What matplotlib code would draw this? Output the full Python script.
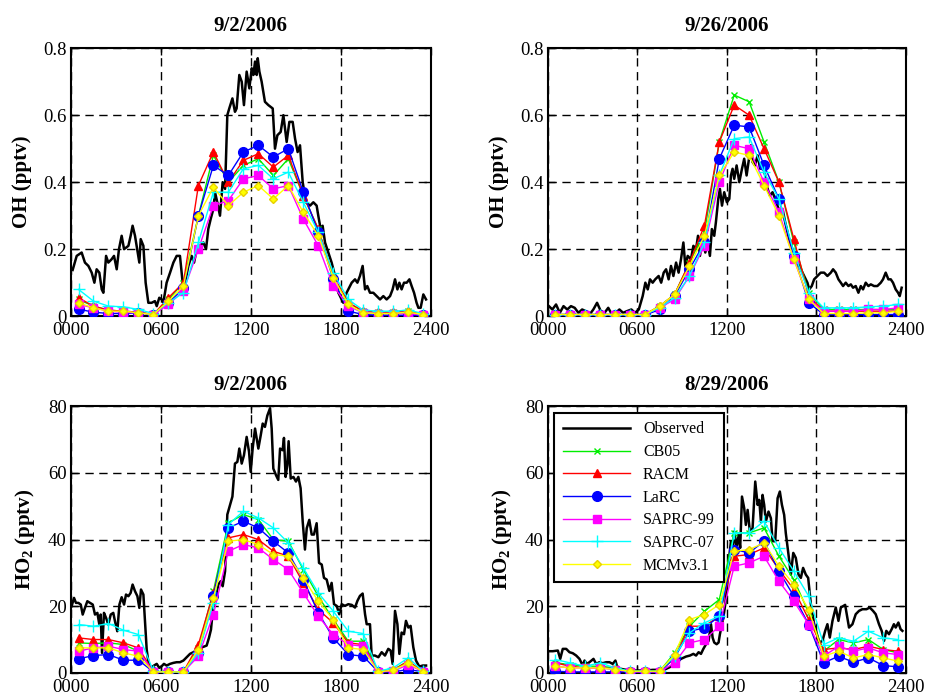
import matplotlib
matplotlib.use("Agg")
import matplotlib.pyplot as plt
from matplotlib.ticker import FixedLocator, FixedFormatter

plt.rcParams['font.family'] = ['Liberation Serif', 'DejaVu Serif']
plt.rcParams['mathtext.fontset'] = 'custom'
plt.rcParams['mathtext.rm'] = 'Liberation Serif'
plt.rcParams['mathtext.bf'] = 'Liberation Serif:bold'

# hourly model output, plotted at mid-hour
model_hours = [0.5, 1.5, 2.5, 3.5, 4.5, 5.5, 6.5, 7.5, 8.5, 9.5, 10.5, 11.5,
               12.5, 13.5, 14.5, 15.5, 16.5, 17.5, 18.5, 19.5, 20.5, 21.5, 22.5, 23.5]
models = ['CB05', 'RACM', 'LaRC', 'SAPRC-99', 'SAPRC-07', 'MCMv3.1']

## PANEL 1: OH 9/2/2006
oh1_obs_t = [0.11, 0.38, 0.71, 0.93, 1.16, 1.38, 1.56, 1.71, 1.89, 2.05, 2.16, 2.34, 2.49, 2.71,
             2.87, 3.05, 3.20, 3.38, 3.54, 3.83, 3.98, 4.11, 4.27, 4.45, 4.56, 4.65, 4.83, 4.98,
             5.16, 5.38, 5.60, 5.72, 5.89, 6.05, 6.16, 6.38, 6.61, 6.83, 7.05, 7.27, 7.45, 7.61,
             7.83, 8.05, 8.21, 8.39, 8.61, 8.83, 9.01, 9.16, 9.32, 9.50, 9.61, 9.76, 9.94, 10.12,
             10.28, 10.43, 10.56, 10.77, 10.94, 11.05, 11.23, 11.39, 11.54, 11.72, 11.90, 12.06,
             12.17, 12.28, 12.39, 12.46, 12.57, 12.72, 12.94, 13.17, 13.46, 13.61, 13.77, 13.99,
             14.17, 14.39, 14.57, 14.79, 14.95, 15.12, 15.28, 15.46, 15.68, 15.95, 16.17, 16.39,
             16.50, 16.66, 16.79, 16.95, 17.17, 17.39, 17.62, 17.84, 18.17, 18.39, 18.73, 18.95,
             19.11, 19.28, 19.46, 19.62, 19.77, 19.95, 20.17, 20.40, 20.62, 20.84, 21.06, 21.29,
             21.46, 21.62, 21.78, 21.91, 22.06, 22.22, 22.40, 22.58, 22.73, 22.89, 23.06, 23.18,
             23.33, 23.51, 23.69]
oh1_obs = [0.138, 0.18, 0.19, 0.16, 0.15, 0.13, 0.10, 0.14, 0.13, 0.08, 0.07, 0.18, 0.16, 0.17,
           0.18, 0.14, 0.20, 0.24, 0.20, 0.21, 0.24, 0.27, 0.24, 0.19, 0.16, 0.23, 0.21, 0.10,
           0.04, 0.04, 0.045, 0.03, 0.055, 0.05, 0.04, 0.10, 0.13, 0.16, 0.18, 0.18, 0.10, 0.10,
           0.15, 0.18, 0.16, 0.20, 0.21, 0.22, 0.20, 0.26, 0.29, 0.32, 0.37, 0.34, 0.30, 0.40,
           0.38, 0.60, 0.62, 0.65, 0.61, 0.62, 0.72, 0.70, 0.63, 0.73, 0.68, 0.74,
           0.72, 0.76, 0.72, 0.77, 0.73, 0.70, 0.64, 0.63, 0.62, 0.50, 0.54, 0.55,
           0.60, 0.52, 0.58, 0.58, 0.53, 0.49, 0.51, 0.40, 0.34, 0.33, 0.34, 0.33,
           0.30, 0.26, 0.27, 0.22, 0.19, 0.16, 0.12, 0.07, 0.04, 0.07, 0.10, 0.11,
           0.10, 0.12, 0.15, 0.08, 0.09, 0.07, 0.07, 0.06, 0.05, 0.06, 0.05, 0.06,
           0.08, 0.11, 0.08, 0.10, 0.08, 0.10, 0.10, 0.11, 0.09, 0.07, 0.04, 0.025,
           0.025, 0.065, 0.05]
oh1_cb05 = [0.05, 0.03, 0.018, 0.015, 0.012, 0.005, 0.05, 0.10, 0.30, 0.48, 0.40, 0.45,
            0.47, 0.42, 0.47, 0.36, 0.26, 0.12, 0.04, 0.015, 0.012, 0.012, 0.015, 0.005]
oh1_racm = [0.055, 0.03, 0.018, 0.015, 0.012, 0.005, 0.055, 0.10, 0.39, 0.49, 0.40, 0.465,
            0.485, 0.445, 0.48, 0.36, 0.26, 0.12, 0.04, 0.015, 0.012, 0.012, 0.015, 0.005]
oh1_larc = [0.021, 0.012, 0.008, 0.008, 0.01, 0.005, 0.04, 0.083, 0.30, 0.45, 0.42, 0.49,
            0.51, 0.475, 0.50, 0.37, 0.25, 0.11, 0.015, 0.005, 0.003, 0.003, 0.003, 0.003]
oh1_s99 = [0.035, 0.025, 0.015, 0.012, 0.01, 0.005, 0.035, 0.075, 0.20, 0.33, 0.345, 0.41,
           0.42, 0.38, 0.39, 0.29, 0.21, 0.09, 0.03, 0.01, 0.008, 0.008, 0.008, 0.003]
oh1_s07 = [0.08, 0.045, 0.03, 0.028, 0.02, 0.008, 0.04, 0.07, 0.22, 0.37, 0.37, 0.44,
           0.45, 0.41, 0.43, 0.34, 0.25, 0.13, 0.05, 0.018, 0.015, 0.015, 0.018, 0.008]
oh1_mcm = [0.04, 0.025, 0.015, 0.015, 0.01, 0.005, 0.045, 0.09, 0.30, 0.385, 0.33, 0.37,
           0.39, 0.35, 0.39, 0.31, 0.24, 0.115, 0.035, 0.01, 0.008, 0.008, 0.012, 0.005]

## PANEL 2: OH 9/26/2006
oh2_obs_t = [0.07, 0.3, 0.55, 0.8, 1.05, 1.3, 1.55, 1.8, 2.05, 2.3, 2.55, 2.8, 3.05, 3.3, 3.55,
             3.8, 4.05, 4.3, 4.55, 4.8, 5.05, 5.3, 5.6, 5.85, 6.1, 6.36, 6.54, 6.70, 6.85, 7.03,
             7.20, 7.43, 7.60, 7.77, 7.93, 8.10, 8.26, 8.42, 8.60, 8.77, 8.93, 9.09, 9.22, 9.38,
             9.60, 9.76, 9.94, 10.07, 10.20, 10.38, 10.56, 10.72, 10.87, 11.00, 11.16, 11.27,
             11.43, 11.54, 11.68, 11.83, 12.01, 12.17, 12.28, 12.39, 12.50, 12.66, 12.84, 13.02,
             13.17, 13.33, 13.46, 13.62, 13.73, 13.89, 14.07, 14.24, 14.40, 14.58, 14.74, 14.89,
             15.07, 15.25, 15.40, 15.56, 15.74, 15.92, 16.08, 16.23, 16.41, 16.59, 16.74, 16.97,
             17.19, 17.41, 17.53, 17.70, 17.86, 18.08, 18.30, 18.53, 18.75, 18.98, 19.13, 19.31,
             19.49, 19.65, 19.80, 19.98, 20.16, 20.32, 20.47, 20.65, 20.83, 20.99, 21.14, 21.32,
             21.50, 21.66, 21.88, 22.10, 22.33, 22.48, 22.66, 22.84, 23.00, 23.15, 23.33, 23.49,
             23.60, 23.73]
oh2_obs = [0.03, 0.02, 0.035, 0.01, 0.03, 0.02, 0.03, 0.025, 0.01, 0.02, 0.015, 0.005, 0.02,
           0.04, 0.015, 0.01, 0.025, 0.005, 0.01, 0.02, 0.01, 0.015, 0.02, 0.01, 0.02, 0.06, 0.10,
           0.08, 0.11, 0.10, 0.11, 0.12, 0.10, 0.13, 0.14, 0.11, 0.15, 0.12, 0.16, 0.13, 0.17,
           0.22, 0.15, 0.18, 0.17, 0.21, 0.20, 0.24, 0.18, 0.23, 0.19, 0.22, 0.18, 0.26, 0.24,
           0.28, 0.35, 0.38, 0.33, 0.37, 0.34, 0.35, 0.42, 0.44, 0.41, 0.45, 0.40, 0.44, 0.47,
           0.42, 0.46, 0.51, 0.46, 0.45, 0.48, 0.44, 0.45, 0.42, 0.38, 0.36, 0.37, 0.35, 0.33,
           0.31, 0.32, 0.28, 0.25, 0.22, 0.20, 0.18, 0.16, 0.14, 0.12, 0.10, 0.08, 0.09, 0.11,
           0.12, 0.13, 0.13, 0.12, 0.13, 0.14, 0.13, 0.11, 0.10, 0.09, 0.10, 0.09, 0.095, 0.085,
           0.09, 0.07, 0.09, 0.08, 0.10, 0.09, 0.095, 0.09, 0.09, 0.10, 0.11, 0.13, 0.11, 0.11,
           0.10, 0.08, 0.07, 0.06, 0.085]
oh2_cb05 = [0.005, 0.005, 0.005, 0.005, 0.005, 0.005, 0.005, 0.03, 0.065, 0.16, 0.25, 0.52,
            0.66, 0.64, 0.52, 0.40, 0.22, 0.07, 0.02, 0.02, 0.02, 0.02, 0.02, 0.02]
oh2_racm = [0.005, 0.005, 0.005, 0.005, 0.005, 0.005, 0.005, 0.03, 0.065, 0.16, 0.27, 0.52,
            0.63, 0.60, 0.50, 0.40, 0.23, 0.06, 0.015, 0.015, 0.015, 0.015, 0.015, 0.015]
oh2_larc = [0.003, 0.003, 0.003, 0.003, 0.003, 0.003, 0.003, 0.02, 0.06, 0.14, 0.22, 0.47,
            0.57, 0.565, 0.45, 0.35, 0.18, 0.04, 0.005, 0.005, 0.005, 0.005, 0.005, 0.005]
oh2_s99 = [0.005, 0.005, 0.005, 0.005, 0.005, 0.005, 0.005, 0.025, 0.05, 0.12, 0.21, 0.40,
           0.51, 0.50, 0.40, 0.31, 0.17, 0.05, 0.015, 0.015, 0.015, 0.02, 0.02, 0.025]
oh2_s07 = [0.005, 0.005, 0.005, 0.005, 0.005, 0.005, 0.005, 0.025, 0.055, 0.12, 0.22, 0.42,
           0.53, 0.535, 0.43, 0.35, 0.19, 0.07, 0.025, 0.025, 0.025, 0.028, 0.03, 0.035]
oh2_mcm = [0.005, 0.005, 0.005, 0.005, 0.005, 0.005, 0.005, 0.03, 0.065, 0.15, 0.24, 0.42,
           0.49, 0.48, 0.39, 0.30, 0.17, 0.05, 0.008, 0.008, 0.008, 0.01, 0.01, 0.015]

## PANEL 3: HO2 9/2/2006
ho1_obs_t = [0.04, 0.20, 0.33, 0.49, 0.65, 0.78, 0.93, 1.09, 1.27, 1.45, 1.60, 1.76, 1.89, 1.98,
             2.07, 2.20, 2.34, 2.49, 2.65, 2.82, 2.98, 3.09, 3.23, 3.38, 3.54, 3.67, 3.83, 3.98,
             4.11, 4.27, 4.43, 4.56, 4.67, 4.83, 4.94, 5.05, 5.20, 5.38, 5.54, 5.72, 5.89, 6.05,
             6.20, 6.38, 6.61, 6.83, 7.05, 7.27, 7.50, 7.72, 7.94, 8.16, 8.39, 8.61, 8.83, 9.05,
             9.21, 9.34, 9.50, 9.68, 9.83, 9.99, 10.12, 10.28, 10.43, 10.61, 10.77, 10.94, 11.10,
             11.23, 11.39, 11.54, 11.72, 11.88, 11.99, 12.12, 12.28, 12.39, 12.50, 12.66, 12.79,
             12.94, 13.10, 13.28, 13.39, 13.50, 13.68, 13.83, 13.95, 14.12, 14.21, 14.32, 14.43,
             14.52, 14.66, 14.84, 15.01, 15.17, 15.32, 15.46, 15.61, 15.73, 15.90, 16.06, 16.21,
             16.39, 16.55, 16.73, 16.88, 17.06, 17.24, 17.39, 17.55, 17.73, 17.90, 18.06, 18.28,
             18.50, 18.73, 18.95, 19.11, 19.28, 19.46, 19.62, 19.73, 19.95, 20.06, 20.28, 20.51,
             20.73, 20.95, 21.17, 21.33, 21.46, 21.62, 21.78, 21.91, 22.06, 22.22, 22.35, 22.51,
             22.66, 22.84, 23.02, 23.24, 23.47, 23.69]
ho1_obs = [20, 22.5, 21, 21, 20.5, 17.5, 19.5, 21.5, 21, 20.5, 17.5, 18, 14.5, 17.5,
           6, 18, 16.5, 14.5, 17.5, 18, 14.5, 12.5, 20.5, 22.7, 20.5, 23.5, 23, 24,
           26.5, 24.5, 23, 19.5, 25, 23.5, 15, 7, 2, 1.7, 2.2, 2.7, 1.5, 2,
           2.7, 2.2, 2.7, 3, 3.2, 3.2, 3.7, 4.7, 5.7, 6.2, 6.7, 7.7, 7.8, 8.2,
           10.6, 13, 20.5, 23.5, 26.5, 27.5, 26, 30.5, 47.5, 50.4, 52.9, 62.8, 63.3,
           67.3, 62.8, 65.3, 70.8, 66.3, 60.3, 67.3, 73.3, 70.3, 67.3, 71.3, 74.8,
           73.8, 77.2, 79.4, 73.3, 61.3, 59.3, 57.9, 67.3, 66.8, 70.5, 58.8, 62.3,
           69.5, 58.3, 58.8, 57.4, 58.8, 55.4, 45.4, 37, 43.4, 45.9, 41.5, 41.5,
           44.9, 33, 32.5, 28.5, 28, 24.6, 27, 20.6, 20.1, 17.6, 20.6, 20.1,
           20.6, 20.4, 19.6, 21.6, 23.1, 23.8, 17.6, 14.6, 14.6, 5.2, 5.2, 4.7,
           6.2, 5.2, 7.2, 6.7, 2.7, 18.6, 14.6, 5.7, 12.1, 11.6, 15.6, 13.6,
           14.1, 7.7, 3.7, 1.9, 2.2, 2.2]
ho1_cb05 = [9, 8.8, 9, 8.5, 6.5, 0.3, 0.3, 0.3, 7.5, 24.5, 45, 47.5,
            46, 40, 39.5, 31, 23, 16, 9.5, 9.5, 0.3, 1, 3.5, 0.3]
ho1_racm = [10.5, 10, 10, 9, 7.5, 0.3, 0.3, 0.3, 8.5, 24, 40.5, 41.5,
            40, 36.5, 35, 27, 19, 15, 9, 8.5, 0.3, 0.8, 3.5, 0.3]
ho1_larc = [4.2, 5.2, 5.5, 3.8, 3.8, 0.3, 0.3, 0.3, 6, 23, 43.5, 45.5,
            43.5, 39.5, 36, 28, 18, 10.5, 5.5, 5, 0.3, 0.3, 1, 0.3]
ho1_s99 = [6.5, 7.5, 8, 7, 6.5, 0.3, 0.3, 0.3, 5, 17.5, 36.5, 38.5,
           37.5, 34, 31, 24, 17, 11.5, 8.5, 8, 0.3, 0.5, 2.5, 0.3]
ho1_s07 = [14.5, 14, 14.8, 12.8, 11.5, 0.5, 0.3, 0.3, 6, 21, 44.5, 48.5,
           46.5, 43.5, 39, 31.5, 24, 18.5, 12.5, 11.8, 0.5, 1.5, 4.5, 0.5]
ho1_mcm = [7.5, 7.5, 7.5, 6, 5, 0.3, 0.3, 0.3, 7, 22.5, 39.5, 40,
           38.5, 35.5, 35, 28.5, 21.5, 16, 7.5, 7, 0.3, 0.8, 3, 0.3]

## PANEL 4: HO2 8/29/2006
ho2_obs_t = [0.07, 0.33, 0.67, 0.83, 1.00, 1.23, 1.45, 1.67, 1.90, 2.12, 2.34, 2.46, 2.61, 2.79,
             3.06, 3.24, 3.46, 3.68, 3.91, 4.13, 4.35, 4.53, 4.69, 4.91, 5.25, 5.69, 6.14, 6.59,
             7.03, 7.48, 7.93, 8.26, 8.60, 8.93, 9.27, 9.53, 9.76, 9.94, 10.11, 10.27, 10.43,
             10.61, 10.78, 10.94, 11.05, 11.16, 11.32, 11.45, 11.54, 11.68, 11.77, 11.90, 12.06,
             12.17, 12.28, 12.39, 12.50, 12.66, 12.79, 12.90, 13.02, 13.17, 13.28, 13.40, 13.55,
             13.73, 13.91, 14.07, 14.18, 14.29, 14.40, 14.51, 14.62, 14.80, 14.96, 15.07, 15.25,
             15.41, 15.56, 15.70, 15.85, 15.96, 16.14, 16.30, 16.46, 16.63, 16.81, 16.97, 17.12,
             17.30, 17.46, 17.64, 17.86, 18.20, 18.42, 18.60, 18.75, 18.91, 19.09, 19.31, 19.49,
             19.65, 19.94, 20.20, 20.43, 20.65, 20.87, 21.10, 21.37, 21.59, 21.81, 21.99, 22.21,
             22.39, 22.55, 22.70, 22.88, 23.06, 23.21, 23.33, 23.51, 23.66, 23.78]
ho2_obs = [6.5, 6.5, 6.7, 4.2, 7.2, 7.2, 6.2, 5.9, 5.2, 4.2, 2.2, 3.7, 2.7, 3.2,
           4.2, 2.7, 3.2, 2.9, 3.2, 3.2, 2.7, 3.7, 1.2, 1.2, 0.9, 0.7, 0.7, 0.7,
           0.9, 0.9, 1.2, 1.9, 3.2, 4.2, 4.9, 5.2, 5.7, 5.2, 6.2, 5.7, 7.2,
           8.6, 9.6, 14.6, 10.6, 9.1, 8.6, 9.1, 11.6, 14.6, 16.6, 20.6, 28.5,
           35, 39.5, 36.5, 42.4, 37.5, 41.5, 37.5, 52.9, 49.4, 44.4, 48.9, 42.4,
           43.4, 57.4, 50.4, 51.9, 45.4, 53.4, 50.4, 45.4, 48.4, 46.4, 39.5, 39.5,
           52.4, 54.4, 50.4, 47.4, 41.9, 35.5, 29.5, 36, 34.5, 29.5, 28.5, 31.5,
           29.5, 28.5, 20.6, 14.6, 9.1, 9.6, 12.6, 14.6, 10.6, 15.6, 19.6, 15.6,
           19.6, 20.4, 13.6, 14.6, 17.6, 18.6, 19.1, 19.1, 19.6, 18.6, 17.6, 14.6,
           12.6, 9.6, 12.6, 11.6, 13.1, 14.6, 13.6, 15.1, 13.1, 12.6]
ho2_cb05 = [3, 2.5, 2, 2, 1.5, 0.5, 0.5, 0.5, 6, 14, 18.5, 22,
            42, 42, 43.5, 35, 28, 18, 6.5, 10, 9, 10, 7, 6]
ho2_racm = [3, 2, 1.5, 1.5, 1.2, 0.3, 0.3, 0.3, 4.5, 14, 14, 17,
            35, 35.5, 37.5, 31, 25, 16, 7, 7.5, 7, 8, 7, 6.5]
ho2_larc = [0.5, 0.3, 0.3, 0.3, 0.3, 0.3, 0.3, 0.3, 4.5, 12.5, 13.5, 17,
            37, 36, 39.5, 30.5, 23, 14.5, 3, 5, 3.2, 4.5, 2.2, 1.8]
ho2_s99 = [2, 1.5, 1.5, 1.5, 1, 0.3, 0.3, 0.3, 3, 9, 10, 14,
           32, 33, 35, 27.5, 21.5, 14.5, 5, 8, 6.5, 7.5, 6, 5.5]
ho2_s07 = [4, 3, 2, 3, 1.5, 0.5, 0.5, 0.5, 5, 12, 15, 17,
           42, 42, 45.5, 37.5, 30.5, 23, 8.5, 10.5, 9.5, 12.5, 10.5, 10]
ho2_mcm = [2, 1.5, 1.5, 1.5, 1, 0.5, 0.5, 0.5, 5.5, 16, 17.5, 20.5,
           36.5, 37, 39, 32, 26.5, 19, 5, 6.5, 4.5, 5.5, 4.5, 3.5]

x_ticks = [0, 6, 12, 18, 24]
x_labels = ['0000', '0600', '1200', '1800', '2400']

# marker style for each mechanism
styles = {
    'CB05': dict(color='#00ee00', marker='x', ms=5, mew=1),
    'RACM': dict(color='#ff0000', marker='^', ms=6),
    'LaRC': dict(color='#0000ff', marker='o', ms=7),
    'SAPRC-99': dict(color='#ff00ff', marker='s', ms=6),
    'SAPRC-07': dict(color='#00ffff', marker='+', ms=9, mew=1),
    'MCMv3.1': dict(color='#ffff00', marker='D', ms=4.5, mec='#e8d000'),
}

panels = [
    dict(rect=[0.0766, 0.547, 0.388, 0.384], title='9/2/2006', ylabel='OH (pptv)',
         ymax=0.8, yticks=[0, 0.2, 0.4, 0.6, 0.8], ylabels=['0', '0.2', '0.4', '0.6', '0.8'],
         obs_t=oh1_obs_t, obs=oh1_obs,
         mod=[oh1_cb05, oh1_racm, oh1_larc, oh1_s99, oh1_s07, oh1_mcm]),
    dict(rect=[0.591, 0.547, 0.386, 0.384], title='9/26/2006', ylabel='OH (pptv)',
         ymax=0.8, yticks=[0, 0.2, 0.4, 0.6, 0.8], ylabels=['0', '0.2', '0.4', '0.6', '0.8'],
         obs_t=oh2_obs_t, obs=oh2_obs,
         mod=[oh2_cb05, oh2_racm, oh2_larc, oh2_s99, oh2_s07, oh2_mcm]),
    dict(rect=[0.0766, 0.036, 0.388, 0.382], title='9/2/2006', ylabel=r'HO$_\mathbf{2}$ (pptv)',
         ymax=80, yticks=[0, 20, 40, 60, 80], ylabels=['0', '20', '40', '60', '80'],
         obs_t=ho1_obs_t, obs=ho1_obs,
         mod=[ho1_cb05, ho1_racm, ho1_larc, ho1_s99, ho1_s07, ho1_mcm]),
    dict(rect=[0.591, 0.036, 0.386, 0.382], title='8/29/2006', ylabel=r'HO$_\mathbf{2}$ (pptv)',
         ymax=80, yticks=[0, 20, 40, 60, 80], ylabels=['0', '20', '40', '60', '80'],
         obs_t=ho2_obs_t, obs=ho2_obs,
         mod=[ho2_cb05, ho2_racm, ho2_larc, ho2_s99, ho2_s07, ho2_mcm]),
]

fig = plt.figure(figsize=(9.27, 6.98), dpi=100)

for i, p in enumerate(panels):
    ax = fig.add_axes(p['rect'])
    ax.plot(p['obs_t'], p['obs'], color='black', lw=1.8, label='Observed', zorder=3)
    for name, vals in zip(models, p['mod']):
        ax.plot(model_hours, vals, lw=1, label=name, zorder=4, **styles[name])
    ax.set_xlim(0, 24)
    ax.set_ylim(0, p['ymax'])
    ax.xaxis.set_major_locator(FixedLocator(x_ticks))
    ax.xaxis.set_major_formatter(FixedFormatter(x_labels))
    ax.yaxis.set_major_locator(FixedLocator(p['yticks']))
    ax.yaxis.set_major_formatter(FixedFormatter(p['ylabels']))
    ax.tick_params(direction='in', length=5, width=1, labelsize=13.5,
                   top=True, right=True, pad=3)
    ax.tick_params(axis='x', pad=4.5)
    ax.grid(True, color='black', ls=(0, (6, 4)), lw=1, zorder=1)
    for s in ax.spines.values():
        s.set_linewidth(1.5)
    ax.set_title(p['title'], fontsize=15, fontweight='bold', pad=12)
    ax.set_ylabel(p['ylabel'], fontsize=15, fontweight='bold', labelpad=8)
    # legend only on the last panel
    if i == 3:
        leg = ax.legend(loc='upper left', fontsize=11.5, handlelength=4.2, labelspacing=0.42,
                        borderaxespad=0.4, borderpad=0.55, fancybox=False, framealpha=1,
                        edgecolor='black')
        leg.get_frame().set_linewidth(1.5)

plt.savefig('out.png', dpi=100)
